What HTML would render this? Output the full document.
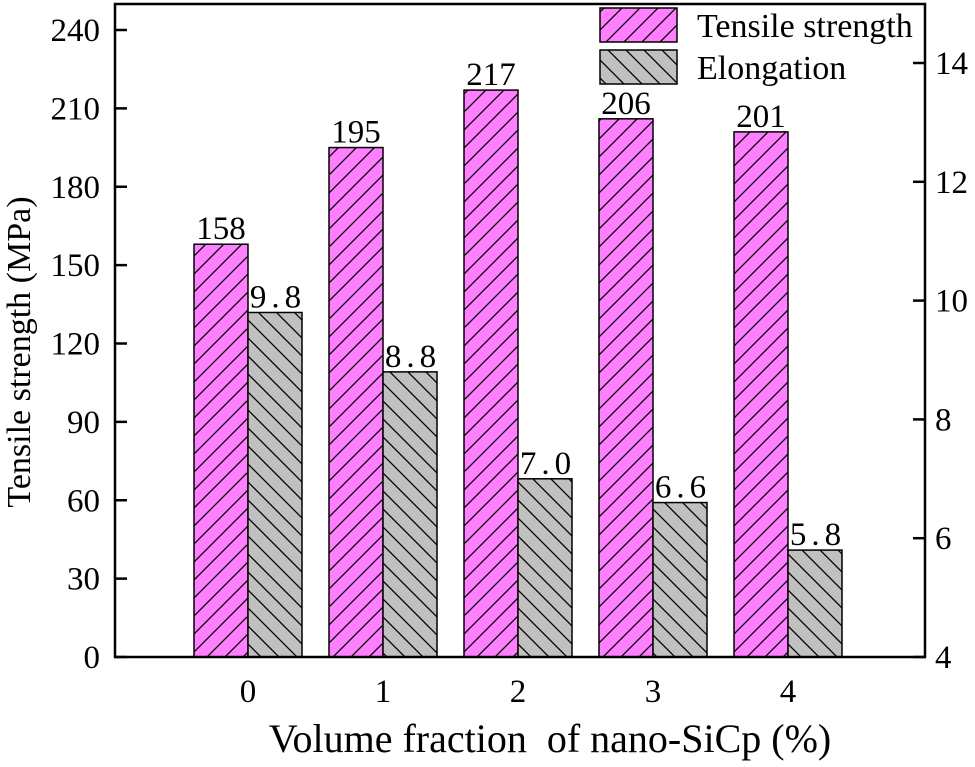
<!DOCTYPE html>
<html><head><meta charset="utf-8"><style>
body{margin:0;background:#fff}
svg text{font-family:"Liberation Serif",serif;fill:#000}
</style></head><body>
<svg id="chart" width="975" height="762" viewBox="0 0 975 762">
<defs>
<pattern id="hp" patternUnits="userSpaceOnUse" width="18" height="18"><rect width="18" height="18" fill="#ff80ff"/><path d="M-1,19 L19,-1 M-5,5 L5,-5 M13,23 L23,13" stroke="#000" stroke-width="1.3"/></pattern>
<pattern id="hg" patternUnits="userSpaceOnUse" width="18" height="18"><rect width="18" height="18" fill="#c0c0c0"/><path d="M-1,-1 L19,19 M-5,13 L5,23 M13,-5 L23,5" stroke="#000" stroke-width="1.3"/></pattern>
</defs>
<g id="bars"></g>
<rect x="115" y="4" width="810" height="653" fill="none" stroke="#000" stroke-width="2.5"/>
<g id="axes"></g>
<text x="550" y="752" font-size="40" text-anchor="middle" xml:space="preserve">Volume fraction  of nano-SiCp (%)</text>
<text transform="translate(30,352) rotate(-90)" font-size="34" text-anchor="middle">Tensile strength (MPa)</text>
<g>
<rect x="600" y="8" width="77" height="34" fill="url(#hp)" stroke="#000" stroke-width="1.5"/>
<text x="697" y="37" font-size="34">Tensile strength</text>
<rect x="600" y="50" width="77" height="34" fill="url(#hg)" stroke="#000" stroke-width="1.5"/>
<text x="697" y="79" font-size="34">Elongation</text>
</g>
</svg>
<script>
const categories=["0","1","2","3","4"];
const tensile=[158,195,217,206,201];
const elongation=[9.8,8.8,7.0,6.6,5.8];
const leftTicks=[0,30,60,90,120,150,180,210,240];
const rightTicks=[4,6,8,10,12,14];
const NS="http://www.w3.org/2000/svg";
const bottom=657;
function yL(v){return bottom-v*(627/240);}
function yR(v){return bottom-(v-4)*(594/10);}
function xC(i){return 248+i*135;}
const bw=54;
const bars=document.getElementById('bars'),axes=document.getElementById('axes');
function mk(tag,attrs,parent,txt){const e=document.createElementNS(NS,tag);for(const k in attrs)e.setAttribute(k,attrs[k]);if(txt!==undefined)e.textContent=txt;parent.appendChild(e);return e;}
categories.forEach((c,i)=>{
 const x=xC(i);
 const r1=mk('rect',{x:x-bw,y:yL(tensile[i]),width:bw,height:bottom-yL(tensile[i]),fill:'url(#hp)',stroke:'#000','stroke-width':1.5},bars);
 
 
 const r2=mk('rect',{x:x,y:yR(elongation[i]),width:bw,height:bottom-yR(elongation[i]),fill:'url(#hg)',stroke:'#000','stroke-width':1.5},bars);
 
 
 const t1=mk('text',{x:x-bw/2,y:yL(tensile[i])-5,'font-size':33,'text-anchor':'middle'},bars,String(tensile[i]));
 
 
 const t2=mk('text',{x:x+bw/2+3,y:yR(elongation[i])-5,'font-size':33,'text-anchor':'middle','letter-spacing':'5'},bars,elongation[i].toFixed(1));
 
 
 const xt=mk('text',{x:x,y:702,'font-size':33,'text-anchor':'middle'},axes,c);
 
 
});
leftTicks.forEach(v=>{
 const y=yL(v);
 const l=mk('line',{x1:115,x2:127,y1:y,y2:y,stroke:'#000','stroke-width':2.5},axes);
 
 
 const t=mk('text',{x:100,y:y+11,'font-size':33,'text-anchor':'end'},axes,String(v));
 
 
});
rightTicks.forEach(v=>{
 const y=yR(v);
 const l=mk('line',{x1:913,x2:925,y1:y,y2:y,stroke:'#000','stroke-width':2.5},axes);
 
 
 const t=mk('text',{x:935,y:y+11,'font-size':33,'text-anchor':'start'},axes,String(v));
 
 
});
</script>
</body></html>
